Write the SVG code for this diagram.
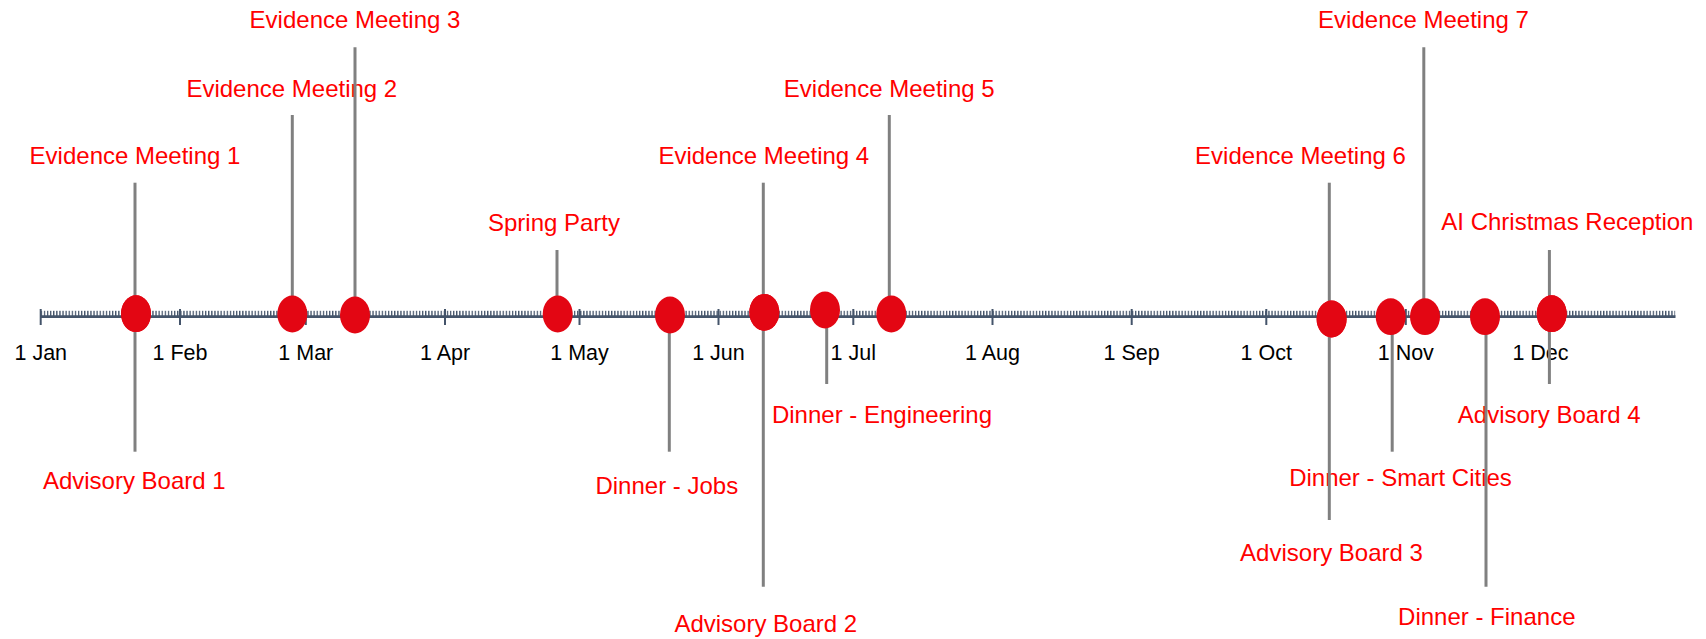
<svg xmlns="http://www.w3.org/2000/svg" width="1706" height="639" viewBox="0 0 1706 639">
<style>
.lbl{font-family:"Liberation Sans",Arial,sans-serif;font-size:24px;fill:#FF0000;text-anchor:middle}
.mon{font-family:"Liberation Sans",Arial,sans-serif;font-size:21.5px;fill:#000;text-anchor:middle}
.stem{stroke:#808080;stroke-width:3;fill:none}
.dot{fill:#E30613}
.maj{stroke:#44546A;stroke-width:2}
</style>
<defs>
<pattern id="minor" patternUnits="userSpaceOnUse" x="40.7" y="310.5" width="3.1" height="7">
<rect x="0" y="0" width="1.3" height="7" fill="#44546A"/>
</pattern>
</defs>
<rect width="1706" height="639" fill="#fff"/>
<g id="axis">
<rect x="40.7" y="310.8" width="1634.5" height="5.7" fill="url(#minor)"/>
<line x1="40" y1="316.6" x2="1675.5" y2="316.6" stroke="#44546A" stroke-width="2.8"/>
<g class="maj">
<line x1="40.7" y1="309" x2="40.7" y2="325"/>
<line x1="180" y1="309" x2="180" y2="325"/>
<line x1="305.8" y1="309" x2="305.8" y2="325"/>
<line x1="445" y1="309" x2="445" y2="325"/>
<line x1="579.5" y1="309" x2="579.5" y2="325"/>
<line x1="718.5" y1="309" x2="718.5" y2="325"/>
<line x1="853.3" y1="309" x2="853.3" y2="325"/>
<line x1="992.5" y1="309" x2="992.5" y2="325"/>
<line x1="1131.7" y1="309" x2="1131.7" y2="325"/>
<line x1="1266.3" y1="309" x2="1266.3" y2="325"/>
<line x1="1405.8" y1="309" x2="1405.8" y2="325"/>
<line x1="1540.5" y1="309" x2="1540.5" y2="325"/>
</g>
<text class="mon" x="40.8" y="360">1 Jan</text>
<text class="mon" x="180" y="360">1 Feb</text>
<text class="mon" x="305.8" y="360">1 Mar</text>
<text class="mon" x="445" y="360">1 Apr</text>
<text class="mon" x="579.5" y="360">1 May</text>
<text class="mon" x="718.5" y="360">1 Jun</text>
<text class="mon" x="853.3" y="360">1 Jul</text>
<text class="mon" x="992.5" y="360">1 Aug</text>
<text class="mon" x="1131.7" y="360">1 Sep</text>
<text class="mon" x="1266.3" y="360">1 Oct</text>
<text class="mon" x="1405.8" y="360">1 Nov</text>
<text class="mon" x="1540.5" y="360">1 Dec</text>
</g>
<g id="labels">
<text id="t-em1" class="lbl" x="135" y="164">Evidence Meeting 1</text>
<text id="t-ab1" class="lbl" x="134.3" y="489.3">Advisory Board 1</text>
<text id="t-em2" class="lbl" x="291.8" y="96.7">Evidence Meeting 2</text>
<text id="t-em3" class="lbl" x="355" y="28.3">Evidence Meeting 3</text>
<text id="t-spring" class="lbl" x="554" y="230.8">Spring Party</text>
<text id="t-jobs" class="lbl" x="666.8" y="494">Dinner - Jobs</text>
<text id="t-em4" class="lbl" x="763.8" y="163.5">Evidence Meeting 4</text>
<text id="t-ab2" class="lbl" x="765.8" y="631.7">Advisory Board 2</text>
<text id="t-eng" class="lbl" x="882" y="422.5">Dinner - Engineering</text>
<text id="t-em5" class="lbl" x="889.2" y="96.7">Evidence Meeting 5</text>
<text id="t-em6" class="lbl" x="1300.5" y="163.5">Evidence Meeting 6</text>
<text id="t-ab3" class="lbl" x="1331.5" y="561">Advisory Board 3</text>
<text id="t-smart" class="lbl" x="1400.5" y="486">Dinner - Smart Cities</text>
<text id="t-em7" class="lbl" x="1423.5" y="28.3">Evidence Meeting 7</text>
<text id="t-fin" class="lbl" x="1486.8" y="625">Dinner - Finance</text>
<text id="t-xmas" class="lbl" x="1567.4" y="230">AI Christmas Reception</text>
<text id="t-ab4" class="lbl" x="1549.2" y="422.7">Advisory Board 4</text>
</g>
<g id="connectors" class="stem">
<line x1="135" y1="182.7" x2="135" y2="316"/>
<line x1="135" y1="316" x2="135" y2="451.7"/>
<line x1="292.3" y1="115" x2="292.3" y2="316"/>
<line x1="355" y1="47.3" x2="355" y2="316"/>
<line x1="557" y1="250" x2="557" y2="316"/>
<line x1="669.3" y1="316" x2="669.3" y2="451.7"/>
<line x1="763.3" y1="182.7" x2="763.3" y2="316"/>
<line x1="763.3" y1="316" x2="763.3" y2="586.7"/>
<line x1="826.7" y1="316" x2="826.7" y2="384"/>
<line x1="889.3" y1="115" x2="889.3" y2="316"/>
<line x1="1329.3" y1="182.7" x2="1329.3" y2="316"/>
<line x1="1329.3" y1="316" x2="1329.3" y2="520"/>
<line x1="1392.2" y1="316" x2="1392.2" y2="451.7"/>
<line x1="1423.8" y1="47.3" x2="1423.8" y2="316"/>
<line x1="1486" y1="316" x2="1486" y2="586.7"/>
<line x1="1549.4" y1="250" x2="1549.4" y2="316"/>
<line x1="1549.4" y1="316" x2="1549.4" y2="384"/>
</g>
<g id="events">
<g id="ev-em1"><ellipse class="dot" cx="136" cy="313.7" rx="15" ry="18.4"/></g>
<g id="ev-ab1"><ellipse class="dot" cx="136" cy="313.7" rx="15" ry="18.4"/></g>
<g id="ev-em2"><ellipse class="dot" cx="292.3" cy="314" rx="15" ry="18.4"/></g>
<g id="ev-em3"><ellipse class="dot" cx="355" cy="315" rx="15" ry="18.4"/></g>
<g id="ev-spring"><ellipse class="dot" cx="557.7" cy="314" rx="15" ry="18.4"/></g>
<g id="ev-jobs"><ellipse class="dot" cx="670" cy="315" rx="15" ry="18.4"/></g>
<g id="ev-em4"><ellipse class="dot" cx="764.3" cy="312.3" rx="15" ry="18.4"/></g>
<g id="ev-ab2"><ellipse class="dot" cx="764.3" cy="312.3" rx="15" ry="18.4"/></g>
<g id="ev-eng"><ellipse class="dot" cx="825" cy="310" rx="15" ry="18.4"/></g>
<g id="ev-em5"><ellipse class="dot" cx="891.3" cy="314" rx="15" ry="18.4"/></g>
<g id="ev-em6"><ellipse class="dot" cx="1331.6" cy="319" rx="15" ry="18.4"/></g>
<g id="ev-ab3"><ellipse class="dot" cx="1331.6" cy="319" rx="15" ry="18.4"/></g>
<g id="ev-smart"><ellipse class="dot" cx="1390.7" cy="316.7" rx="15" ry="18.4"/></g>
<g id="ev-em7"><ellipse class="dot" cx="1425" cy="316.7" rx="15" ry="18.4"/></g>
<g id="ev-fin"><ellipse class="dot" cx="1485" cy="316.7" rx="15" ry="18.4"/></g>
<g id="ev-xmas"><ellipse class="dot" cx="1551.7" cy="313.7" rx="15" ry="18.4"/></g>
<g id="ev-ab4"><ellipse class="dot" cx="1551.7" cy="313.7" rx="15" ry="18.4"/></g>
</g>
</svg>
